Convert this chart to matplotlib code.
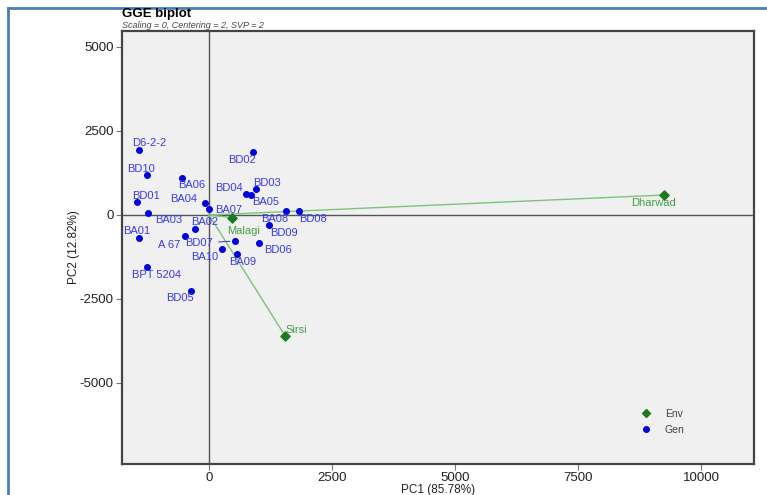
import matplotlib
matplotlib.use('Agg')
import matplotlib.pyplot as plt
from matplotlib.lines import Line2D

plt.rcParams['font.family'] = ['Liberation Sans', 'DejaVu Sans']
plt.rcParams['axes.unicode_minus'] = False

# Datos de genotipos (PC1, PC2)
gen_names = ['D6-2-2', 'BD10', 'BD01', 'BA03', 'BA01', 'BPT 5204', 'BD05', 'A 67',
             'BA02', 'BA06', 'BA04', 'BA07', 'BD02', 'BD03', 'BD04', 'BA05',
             'BA08', 'BD08', 'BD09', 'BD06', 'BD07', 'BA10', 'BA09']
gen_pc1 = [-1417, -1267, -1470, -1234, -1423, -1267, -372, -482,
           -285, -555, -87, 10, 901, 956, 752, 861,
           1565, 1830, 1220, 1023, 535, 257, 563]
gen_pc2 = [1934, 1181, 397, 69, -694, -1557, -2252, -625,
           -426, 1092, 348, 170, 1884, 784, 615, 595,
           129, 119, -298, -833, -774, -1002, -1170]

# Datos de ambientes
env_names = ['Dharwad', 'Malagi', 'Sirsi']
env_pc1 = [9256, 474, 1545]
env_pc2 = [595, -80, -3592]

# Desplazamiento de etiquetas (pixeles)
gen_off = {'D6-2-2': (10, 7), 'BD10': (-6, 6), 'BD01': (9, 6), 'BA03': (20, -7),
           'BA01': (-2, 7), 'BPT 5204': (10, -8), 'BD05': (-11, -7), 'A 67': (-16, -9),
           'BA02': (10, 7), 'BA06': (10, -7), 'BA04': (-21, 4), 'BA07': (19, -1),
           'BD02': (-11, -8), 'BD03': (11, 6), 'BD04': (-17, 6), 'BA05': (14, -7),
           'BA08': (-11, -8), 'BD08': (14, -8), 'BD09': (15, -8), 'BD06': (19, -7),
           'BD07': (-36, -2), 'BA10': (-17, -8), 'BA09': (6, -8)}
env_off = {'Dharwad': (-11, -8), 'Malagi': (11, -13), 'Sirsi': (11, 6)}

W, H = 767, 495
fig = plt.figure(figsize=(W / 100, H / 100), dpi=100)
ax = fig.add_axes([122 / W, 31 / H, (754 - 122) / W, (464 - 31) / H])
ax.set_facecolor('#f0f0f0')

# Ejes en el origen
ax.axhline(0, color='#555555', lw=1, zorder=1)
ax.axvline(0, color='#555555', lw=1, zorder=1)

# Vectores de ambientes
for x, y in zip(env_pc1, env_pc2):
    ax.plot([0, x], [0, y], color='#7cc47c', lw=1, zorder=2)

ax.scatter(gen_pc1, gen_pc2, s=16, color='#0000dd', zorder=3)
ax.scatter(env_pc1, env_pc2, s=22, marker='D', color='#1f7a1f', zorder=3)

for n, x, y in zip(gen_names, gen_pc1, gen_pc2):
    dx, dy = gen_off[n]
    kw = {}
    if n == 'BD07':
        kw['arrowprops'] = dict(arrowstyle='-', color='#4444cc', lw=0.8,
                                shrinkA=2, shrinkB=4)
    ax.annotate(n, (x, y), xytext=(dx, dy), textcoords='offset pixels',
                ha='center', va='center', fontsize=8, color='#3a3aee', zorder=4, **kw)

for n, x, y in zip(env_names, env_pc1, env_pc2):
    dx, dy = env_off[n]
    ax.annotate(n, (x, y), xytext=(dx, dy), textcoords='offset pixels',
                ha='center', va='center', fontsize=8, color='#44a044', zorder=4)

ax.set_xlim(-1768, 11077)
ax.set_ylim(-7411, 5476)
ax.set_xticks([0, 2500, 5000, 7500, 10000])
ax.set_yticks([-5000, -2500, 0, 2500, 5000])
ax.tick_params(labelsize=9.5, length=4, pad=2, color='#777777', labelcolor='#222222', width=0.8)
for s in ax.spines.values():
    s.set_color('#444444')
    s.set_linewidth(1.6)

ax.set_xlabel('PC1 (85.78%)', fontsize=8.5, labelpad=0, color='#222222')
ax.set_ylabel('PC2 (12.82%)', fontsize=8.5, labelpad=0, color='#222222')

# Titulo
fig.text(122 / W, 1 - 14 / H, 'GGE biplot', fontsize=9.5, fontweight='bold',
         ha='left', va='center')
fig.text(122 / W, 1 - 25 / H, 'Scaling = 0, Centering = 2, SVP = 2', fontsize=6.5,
         style='italic', color='#444444', ha='left', va='center')

# Leyenda
handles = [Line2D([], [], marker='D', ls='', color='#1f7a1f', markersize=4),
           Line2D([], [], marker='o', ls='', color='#0000dd', markersize=4)]
ax.legend(handles, ['Env', 'Gen'], loc='lower right', bbox_to_anchor=(0.905, 0.045),
          frameon=False, fontsize=7.5, handletextpad=0.8, labelspacing=0.6,
          labelcolor='#444444')

# Marco azul
fig.add_artist(Line2D([8 / W, 1], [1 - 8 / H, 1 - 8 / H], color='#4a7ebb', lw=2))
fig.add_artist(Line2D([8 / W, 8 / W], [0, 1 - 8 / H], color='#4a7ebb', lw=2))

fig.savefig('out.png', dpi=100)
